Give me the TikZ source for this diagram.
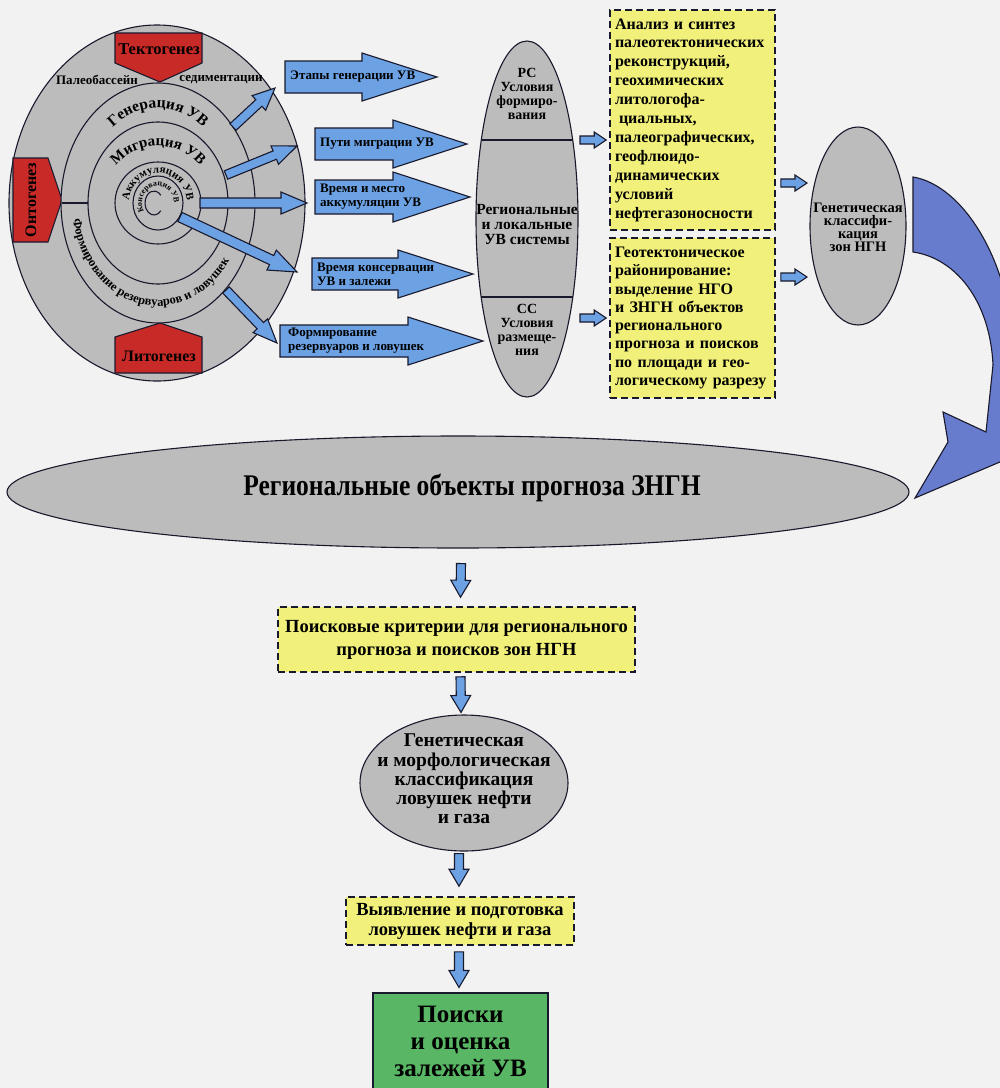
\documentclass[tikz,border=0pt]{standalone}
\usepackage{fontspec}
\setmainfont{Liberation Serif}
\newfontfamily\condfont{Liberation Serif}[FakeStretch=0.85]
\usetikzlibrary{calc,decorations.text,shapes.geometric}

\definecolor{bg}{RGB}{242,242,242}
\definecolor{ringgrey}{RGB}{188,188,188}
\definecolor{redbox}{RGB}{200,42,40}
\definecolor{lblue}{RGB}{108,162,228}
\definecolor{dblue}{RGB}{104,124,206}
\definecolor{ylw}{RGB}{240,240,122}
\definecolor{grn}{RGB}{88,182,100}
\definecolor{edge}{RGB}{25,25,45}

\newcommand\fs[2]{\fontsize{#1}{#2}\selectfont}

% block arrow from #2 to #3: shaft half width #4, head half width #5, head length #6
\newcommand\thickarrow[6][]{%
  \path let \p1=(#2), \p2=(#3) in \pgfextra{%
    \pgfmathsetmacro\tmpang{atan2(\y2-\y1,\x2-\x1)}%
    \pgfmathsetmacro\tmplen{veclen(\x2-\x1,\y2-\y1)}%
    \global\let\arang\tmpang\global\let\arlen\tmplen};%
  \begin{scope}[shift={(#2)},rotate=\arang]
    \draw[arr,#1] (0,-#4) -- ({\arlen-#6},-#4) -- ({\arlen-#6},-#5) -- (\arlen,0)
      -- ({\arlen-#6},#5) -- ({\arlen-#6},#4) -- (0,#4) -- cycle;
  \end{scope}}

\tikzset{
  ring/.style={draw=edge,line width=1.1pt,fill=ringgrey},
  ringline/.style={draw=edge,line width=1.1pt},
  pent/.style={draw=edge,line width=1.1pt,fill=redbox},
  arr/.style={draw=edge,line width=1.1pt,fill=lblue,line join=miter,miter limit=20},
  bigarr/.style={draw=edge,line width=1.1pt,fill=dblue,line join=miter},
  oval/.style={ellipse,draw=edge,line width=1.1pt,fill=ringgrey,inner sep=0pt},
  dbox/.style={rectangle,draw=edge,line width=1.6pt,dash pattern=on 7pt off 4pt,fill=ylw},
  arrtxt/.style={font=\bfseries\fs{13}{14},align=left,inner sep=0pt,anchor=west},
  penttxt/.style={font=\bfseries\fs{16.5}{16},inner sep=0pt},
  smalltxt/.style={font=\bfseries\fs{13}{13},inner sep=0pt},
  otxt/.style={font=\bfseries\fs{14}{14},align=center,inner sep=0pt},
  curvtxt/.style={decorate,decoration={text along path,text align=center,text={#1}}},
}

\begin{document}
\begin{tikzpicture}[x=1pt,y=-1pt]
\clip (0,0) rectangle (1000,1088);
\fill[bg] (0,0) rectangle (1000,1088);

% ---------- sedimentary basin rings ----------
\draw[ring] (157,203) ellipse[x radius=148,y radius=178];
\draw[pent] (115,33) -- (202,33) -- (202,63) -- (160,82) -- (115,63) -- cycle;
\draw[pent] (115,373) -- (115,337) -- (160,323) -- (202,337) -- (202,373) -- cycle;
\draw[pent] (13,158) -- (48,158) -- (62,200) -- (48,242) -- (13,242) -- cycle;
\node[penttxt] (tekt) at (159,49) {Тектогенез};
\node[penttxt,font=\bfseries\fs{16}{16}] (lito) at (159,356) {Литогенез};
\node[penttxt,font=\bfseries\fs{16}{16},rotate=90] (onto) at (31,200) {Онтогенез};
\node[smalltxt] (paleo) at (97,80) {Палеобассейн};
\node[smalltxt] (sedim) at (221,80) {седиментации};

\draw[ring] (158,203) ellipse[x radius=97,y radius=120];
\draw[ring] (158,203) ellipse[x radius=70,y radius=81];
\draw[ring] (158,203) ellipse[x radius=43,y radius=41];
\draw[ring] (158,203) ellipse[x radius=25,y radius=27];
\draw[ringline] (62,203) -- (88,203);
\draw[ringline] (154,203) ++(40:9 and 12) arc[start angle=40,end angle=320,x radius=9,y radius=12];

\path[curvtxt={|\bfseries\fs{15.5}{15}|Генерация УВ}]
  (158,203) ++(200:75 and 95) arc[start angle=200,end angle=340,x radius=75,y radius=95];
\path[curvtxt={|\bfseries\fs{15}{15}|Миграция УВ}]
  (158,203) ++(200:56 and 57) arc[start angle=200,end angle=340,x radius=56,y radius=57];
\path[curvtxt={|\bfseries\fs{11}{11}|Аккумуляция УВ}]
  (158,203) ++(170:29 and 30) arc[start angle=170,end angle=370,x radius=29,y radius=30];
\path[curvtxt={|\bfseries\fs{8}{8}|Консервация УВ}]
  (158,203) ++(135:16 and 17) arc[start angle=135,end angle=375,x radius=16,y radius=17];
\path[curvtxt={|\bfseries\fs{12.5}{12}|Формирование резервуаров и ловушек}]
  (158,203) ++(175:86 and 103) arc[start angle=175,end angle=30,x radius=86,y radius=103];

% ---------- arrows leaving the rings ----------
\coordinate (ra1) at (233,127); \coordinate (ra2) at (275,88);
\coordinate (rb1) at (226,175); \coordinate (rb2) at (297,146);
\coordinate (rc1) at (200,203); \coordinate (rc2) at (307,203);
\coordinate (rd1) at (180,217); \coordinate (rd2) at (297,272);
\coordinate (re1) at (226,290); \coordinate (re2) at (277,343);
\thickarrow{ra1}{ra2}{4.5}{10}{22}
\thickarrow{rb1}{rb2}{4.5}{10}{24}
\thickarrow{rc1}{rc2}{5}{11}{26}
\thickarrow{rd1}{rd2}{5}{11}{28}
\thickarrow{re1}{re2}{4.5}{10}{24}

% ---------- labelled block arrows ----------
\coordinate (ta1) at (285,77);  \coordinate (tb1) at (437,77);
\coordinate (ta2) at (315,144); \coordinate (tb2) at (467,144);
\coordinate (ta3) at (315,197); \coordinate (tb3) at (470,197);
\coordinate (ta4) at (312,274); \coordinate (tb4) at (473,274);
\coordinate (ta5) at (280,341); \coordinate (tb5) at (483,341);
\thickarrow{ta1}{tb1}{16}{24}{75}
\thickarrow{ta2}{tb2}{16}{24}{74}
\thickarrow{ta3}{tb3}{17}{25}{77}
\thickarrow{ta4}{tb4}{16}{24}{75}
\thickarrow{ta5}{tb5}{16}{24}{75}
\node[arrtxt] (l1) at (290,77) {Этапы генерации УВ};
\node[arrtxt] (l2) at (320,144) {Пути миграции УВ};
\node[arrtxt] (l3) at (320,197) {Время и место\\аккумуляции УВ};
\node[arrtxt] (l4) at (317,274) {Время консервации\\УВ и залежи};
\node[arrtxt] (l5) at (288,341) {Формирование\\резервуаров и ловушек};

% ---------- systems oval ----------
\node[oval,minimum width=102,minimum height=356] (sys) at (527,219) {};
\draw[ringline] (481,140) -- (573,140);
\draw[ringline] (481,297) -- (573,297);
\node[otxt] (rs) at (527,94) {РС\\Условия\\формиро-\\вания};
\node[otxt,font=\bfseries\fs{15.5}{15}] (rl) at (527,224) {Региональные\\и локальные\\УВ системы};
\node[otxt] (ss) at (527,330) {СС\\Условия\\размеще-\\ния};

% ---------- analysis boxes ----------
\node[dbox,minimum width=165,minimum height=220,text width=155,inner xsep=5pt,
      align=left,font=\bfseries\fs{16}{18.9}] (anal) at (692.5,120)
 {Анализ и синтез\\палеотектонических\\реконструкций,\\геохимических\\литологофа-\\
  \hspace*{4pt}циальных,\\палеографических,\\геофлюидо-\\динамических\\условий\\нефтегазоносности};
\node[dbox,minimum width=165,minimum height=160,text width=155,inner xsep=5pt,
      align=left,font=\bfseries\fs{16}{18.3}] (zon) at (692.5,318)
 {Геотектоническое\\районирование:\\выделение НГО\\и ЗНГН объектов\\регионального\\прогноза и поисков\\по площади и гео-\\логическому разрезу};

\node[oval,minimum width=96,minimum height=198] (gcl) at (858,226) {};
\node[otxt,font=\bfseries\fs{14.5}{13}] (gclt) at (858,227) {Генетическая\\классифи-\\кация\\зон НГН};

\coordinate (sa1) at ($(sys.center)+(53,-79)$); \coordinate (sb1) at ($(anal.west)+(-3,20)$);
\coordinate (sa2) at ($(sys.center)+(53,99)$);  \coordinate (sb2) at ($(zon.west)+(-3,0)$);
\thickarrow{sa1}{sb1}{4}{8}{12}
\thickarrow{sa2}{sb2}{4}{8}{12}
\coordinate (ga1) at ($(anal.east)+(5,63)$); \coordinate (gb1) at ($(gcl.center)+(-51,-43)$);
\coordinate (ga2) at ($(zon.east)+(5,-41)$); \coordinate (gb2) at ($(gcl.center)+(-51,51)$);
\thickarrow{ga1}{gb1}{4}{8}{12}
\thickarrow{ga2}{gb2}{4}{8}{12}

% ---------- return arrow ----------
\draw[bigarr] (913,177) .. controls (962,185) and (1012,260) .. (1014,360)
  -- (1016,430) -- (1040,445) -- (915,498) -- (948,442) -- (943,412) -- (986,432)
  -- (993,365) .. controls (990,300) and (955,258) .. (913,252) -- cycle;

% ---------- regional forecast and search chain ----------
\node[oval,minimum width=902,minimum height=112] (big) at (458,492) {};
\node[font=\condfont\bfseries\fs{30}{30},inner sep=0pt] (bigt) at (472,488) {Региональные объекты прогноза ЗНГН};

\node[dbox,minimum width=357,minimum height=65,align=center,font=\bfseries\fs{18.5}{23}] (crit) at (456.5,639.5)
 {Поисковые критерии для регионального\\прогноза и поисков зон НГН};
\node[oval,minimum width=208,minimum height=136] (trap) at (464,783) {};
\node[otxt,font=\bfseries\fs{19.5}{19.3}] (trapt) at (464,779) {Генетическая\\и морфологическая\\классификация\\ловушек нефти\\и газа};
\node[dbox,minimum width=228,minimum height=48,align=center,font=\bfseries\fs{18.5}{20}] (prep) at (460,921)
 {Выявление и подготовка\\ловушек нефти и газа};
\node[rectangle,draw=edge,line width=1.1pt,fill=grn,minimum width=175,minimum height=96,
      align=center,font=\bfseries\fs{25}{27}] (srch) at (460.5,1041) {Поиски\\и оценка\\залежей УВ};

\coordinate (da1) at ($(big.south)+(3,15)$);  \coordinate (db1) at ($(crit.north)+(4,-9)$);
\coordinate (da2) at ($(crit.south)+(4,4)$);  \coordinate (db2) at ($(trap.north)+(-3,-2)$);
\coordinate (da3) at ($(trap.south)+(-5,2)$); \coordinate (db3) at ($(prep.north)+(-1,-10)$);
\coordinate (da4) at ($(prep.south)+(-1,6)$); \coordinate (db4) at ($(srch.north)+(-1.5,-5)$);
\thickarrow{da1}{db1}{4.5}{10}{17}
\thickarrow{da2}{db2}{4.5}{10}{17}
\thickarrow{da3}{db3}{4.5}{10}{17}
\thickarrow{da4}{db4}{4.5}{10}{17}
\end{tikzpicture}
\end{document}
